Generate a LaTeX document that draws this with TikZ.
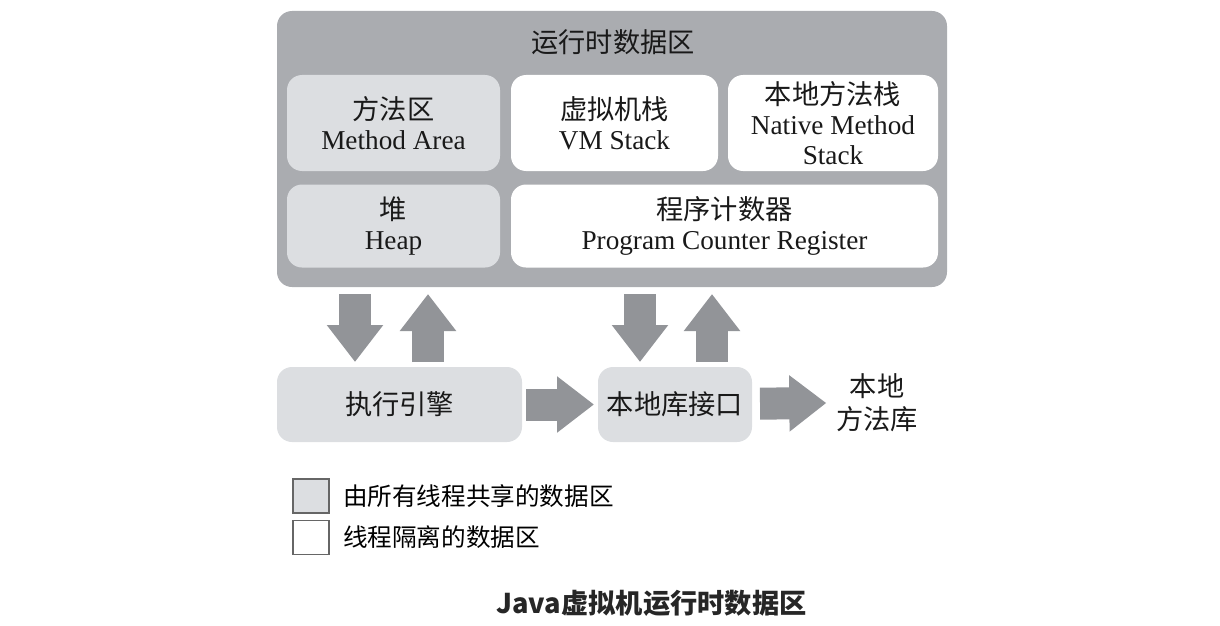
\documentclass[tikz,border=0pt]{standalone}
\usepackage{fontspec}
\setmainfont{Liberation Serif}
\newfontfamily\cjk{Noto Sans CJK SC}
\usepackage{tikz}
\usetikzlibrary{arrows.meta, calc, positioning}
\definecolor{outergrey}{RGB}{170,172,176}
\definecolor{arrowgrey}{RGB}{146,148,152}
\definecolor{sharedgrey}{RGB}{220,222,225}

\begin{document}
\begin{tikzpicture}[% styles used in image code
 lbl/.style = {font=\fontsize{15.5}{17}\selectfont, align=center,
               text=black!90},
 area/.style = {lbl, rounded corners=3mm, inner sep=0pt, outer sep=0pt},
shared/.style = {area, fill=sharedgrey},
  priv/.style = {area, fill=white},
 bigarrow/.style = {draw=arrowgrey, line width=6.4mm,
                    -{Triangle[width=10.8mm, length=7.4mm]}},
 legbox/.style = {draw=black!60, line width=0.8pt, minimum width=7.2mm,
                  minimum height=6.8mm, inner sep=0pt},
 legtxt/.style = {font=\fontsize{14}{16}\selectfont\cjk, inner sep=0pt,
                  anchor=west}
                    ]
\useasboundingbox (0,0) rectangle (24.4,-12.5);

	% runtime data area
	\node[area, fill=outergrey, minimum width=13.40cm, minimum height=5.52cm]
	     (rt) at (12.24,-2.98) {};
	\node[lbl] (title) at (12.26,-0.84) {\cjk 运行时数据区};

	\node[shared, minimum width=4.26cm, minimum height=1.92cm]
	     (method) at (7.87,-2.46) {{\cjk 方法区}\\Method Area};
	\node[priv, minimum width=4.14cm, minimum height=1.92cm]
	     (vm) at (12.29,-2.46) {{\cjk 虚拟机栈}\\VM Stack};
	\node[priv, minimum width=4.20cm, minimum height=1.92cm]
	     (native) at (16.66,-2.46) {{\cjk 本地方法栈}\\Native Method\\Stack};
	\node[shared, minimum width=4.26cm, minimum height=1.66cm]
	     (heap) at (7.87,-4.52) {{\cjk 堆}\\Heap};
	\node[priv, minimum width=8.54cm, minimum height=1.66cm]
	     (pc) at (14.49,-4.52) {{\cjk 程序计数器}\\Program Counter Register};

	% engine and native interface
	\node[shared, minimum width=4.90cm, minimum height=1.50cm]
	     (engine) at (7.99,-8.09) {\cjk 执行引擎};
	\node[shared, minimum width=3.08cm, minimum height=1.50cm]
	     (nif) at (13.50,-8.09) {\cjk 本地库接口};
	\node[lbl, inner sep=0pt, font=\fontsize{15.5}{18.5}\selectfont]
	     (natlib) at (17.54,-8.05) {\cjk 本地\\\cjk 方法库};

	% arrows
	\coordinate (d1) at (7.10,0);
	\coordinate (u1) at (8.56,0);
	\coordinate (d2) at (12.80,0);
	\coordinate (u2) at (14.24,0);
	\draw[bigarrow, shorten <=1.4mm, shorten >=1mm]
	     (d1 |- rt.south) -- (d1 |- engine.north);
	\draw[bigarrow, shorten <=1mm, shorten >=1.4mm]
	     (u1 |- engine.north) -- (u1 |- rt.south);
	\draw[bigarrow, shorten <=1.4mm, shorten >=1mm]
	     (d2 |- rt.south) -- (d2 |- nif.north);
	\draw[bigarrow, shorten <=1mm, shorten >=1.4mm]
	     (u2 |- nif.north) -- (u2 |- rt.south);
	\draw[bigarrow, shorten <=0.8mm, shorten >=0.8mm] (engine) -- (nif);
	\draw[bigarrow, shorten <=1.6mm, shorten >=1.9mm] (nif) -- (natlib);

	% legend
	\node[legbox, fill=sharedgrey] (sq1) at (6.22,-9.92) {};
	\node[legbox, fill=white] (sq2) at (6.22,-10.75) {};
	\node[legtxt, right=2.6mm of sq1] (t1) {由所有线程共享的数据区};
	\node[legtxt, right=2.6mm of sq2] (t2) {线程隔离的数据区};

	% caption
	\node[font=\fontsize{15.5}{18}\selectfont\cjk\bfseries, text=black!85]
	     (cap) at (13.03,-12.06) {Java虚拟机运行时数据区};
\end{tikzpicture}
\end{document}
